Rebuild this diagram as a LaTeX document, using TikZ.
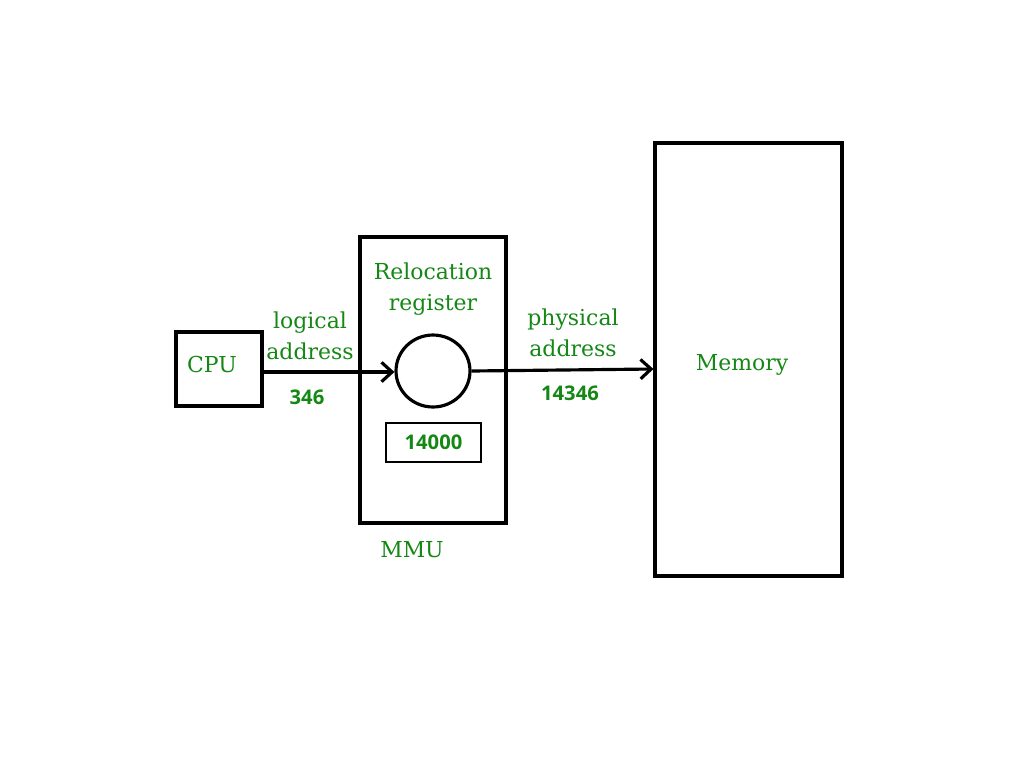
\documentclass[tikz,border=0pt]{standalone}
\usepackage{fontspec}
\setmainfont{DejaVu Serif}
\newfontfamily\numfont{Open Sans}
\usetikzlibrary{arrows.meta,shapes.geometric}
\definecolor{labelgreen}{RGB}{20,135,20}
\begin{document}
\begin{tikzpicture}[x=0.02cm,y=-0.02cm]

    \tikzset{
      unit/.style={draw, line width=1.8pt, inner sep=0pt},
      lbl/.style={text=labelgreen, font=\fontsize{12.5}{17.5}\selectfont, align=center},
      num/.style={text=labelgreen, font=\numfont\bfseries\fontsize{11.5}{13}\selectfont},
      flow/.style={line width=1.8pt, -{Straight Barb[length=6pt,width=11pt,line width=1.8pt]}},
    }
    \useasboundingbox (0,0) rectangle (1024,768);
    % boxes
    \node[unit, minimum width=1.72cm, minimum height=1.48cm] (cpu) at (219,369) {};
    \node[unit, minimum width=2.92cm, minimum height=5.72cm] (mmu) at (433,380) {};
    \node[unit, minimum width=3.74cm, minimum height=8.66cm] (mem) at (748.5,359.5) {};
    \node[unit, ellipse, minimum width=1.48cm, minimum height=1.44cm] (adder) at (433,371) {};
    \node[unit, line width=1.2pt, minimum width=1.9cm, minimum height=0.78cm] (reg) at (433.5,442.5) {};
    % texts
    \node[lbl] at (212,364) {CPU};
    \node[lbl] at (433,289) {Relocation\\register};
    \node[lbl] at (742,365) {Memory};
    \node[lbl] at (412,550) {MMU};
    \node[lbl] at (310,336) {logical\\address};
    \node[lbl] at (573,333) {physical\\address};
    \node[num] at (307,397) {346};
    \node[num] at (570,393) {14346};
    \node[num] (val) at (reg) {14000};
    % connectors
    \draw[flow] (cpu.east |- 0,372) -- (adder.west |- 0,372);
    \draw[flow] (adder.east) -- (mem.west |- 0,369);

\end{tikzpicture}
\end{document}
